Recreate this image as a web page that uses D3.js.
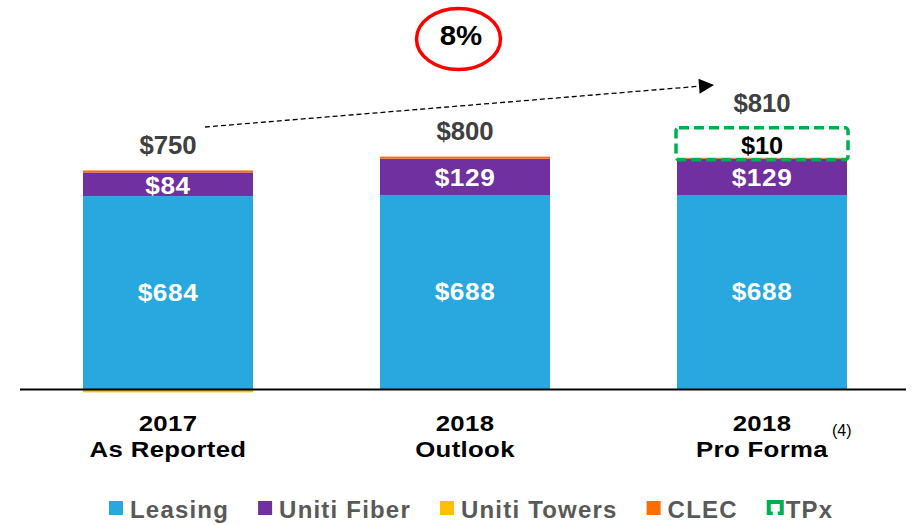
<!DOCTYPE html>
<html>
<head>
<meta charset="utf-8">
<script src="https://cdn.jsdelivr.net/npm/d3@7"></script>
<style>
  body { margin: 0; background: #fff; }
  svg { display: block; font-family: "Liberation Sans", Arial, sans-serif; }
</style>
</head>
<body>
<svg id="chart" width="914" height="525"></svg>
<script>
// chart data
var categories = [["2017", "As Reported"], ["2018", "Outlook"], ["2018", "Pro Forma"]];
var leasing = [684, 688, 688];
var fiber = [84, 129, 129];
var towers = [-12, 0, 0];
var clec = [7, 7, 3];
var tpx = [0, 0, 10];
var totals = [750, 800, 810];
var growth = "8%";
var seriesNames = ["Leasing", "Uniti Fiber", "Uniti Towers", "CLEC", "TPx"];
var seriesColors = ["#29A8E0", "#7030A0", "#FFC000", "#FF6D00", "#00B050"];

var svg = d3.select("#chart");

var x = d3.scaleBand()
  .domain(d3.range(categories.length))
  .range([83, 847])
  .paddingInner(0.4276)
  .paddingOuter(0);

var y = d3.scaleLinear().domain([0, 1000]).range([389, 107]);

// stacked segments (positive stack upward, towers negative below axis)
var rows = categories.map(function(c, i) {
  var segs = [];
  var base = 0;
  [leasing[i], fiber[i], clec[i]].forEach(function(v, k) {
    segs.push({ i: i, y0: base, y1: base + v, color: [seriesColors[0], seriesColors[1], seriesColors[3]][k] });
    base += v;
  });
  if (towers[i] < 0) segs.push({ i: i, y0: towers[i], y1: 0, color: seriesColors[2] });
  return { i: i, segs: segs, top: base };
});

var g = svg.append("g");
rows.forEach(function(r) {
  g.selectAll(null).data(r.segs).enter().append("rect")
    .attr("x", function(d) { return x(d.i); })
    .attr("width", x.bandwidth())
    .attr("y", function(d) { return y(d.y1); })
    .attr("height", function(d) { return y(d.y0) - y(d.y1); })
    .attr("fill", function(d) { return d.color; });
});

// axis baseline
svg.append("line")
  .attr("x1", 20).attr("x2", 906)
  .attr("y1", y(0) + 0.5).attr("y2", y(0) + 0.5)
  .attr("stroke", "#000").attr("stroke-width", 2);

// wide text helper: the original labels are horizontally stretched
function wideText(parent, cx, cy, sx) {
  return parent.append("g")
    .attr("transform", "translate(" + cx + "," + cy + ") scale(" + sx + ",1)")
    .append("text")
    .attr("text-anchor", "middle");
}

// segment labels
function segLabel(i, mid, txt, color) {
  wideText(svg, x(i) + x.bandwidth() / 2, mid, 1.14)
    .attr("dy", "0.36em")
    .attr("font-size", 23).attr("font-weight", "bold")
    .attr("letter-spacing", 0.5)
    .attr("fill", color)
    .text(txt);
}
categories.forEach(function(c, i) {
  segLabel(i, y(leasing[i] / 2), "$" + leasing[i], "#fff");
  segLabel(i, (y(leasing[i]) + y(leasing[i] + fiber[i])) / 2 + 1, "$" + fiber[i], "#fff");
});

// TPx dashed box
categories.forEach(function(c, i) {
  if (!tpx[i]) return;
  var bottom = y(rows[i].top) + 2;
  svg.append("rect")
    .attr("x", x(i) - 1).attr("width", x.bandwidth() + 2)
    .attr("y", bottom - 32).attr("height", 32)
    .attr("rx", 3)
    .attr("fill", "none")
    .attr("stroke", seriesColors[4]).attr("stroke-width", 3.5)
    .attr("stroke-dasharray", "10,5");
  wideText(svg, x(i) + x.bandwidth() / 2, bottom - 6, 1.1)
    .attr("font-size", 23).attr("font-weight", "bold")
    .attr("fill", "#000")
    .text("$" + tpx[i]);
});

// totals
var totalBaselines = [154, 139.5, 112];
totals.forEach(function(d, i) {
  wideText(svg, x(i) + x.bandwidth() / 2, totalBaselines[i], 1.03)
    .attr("font-size", 25).attr("font-weight", "bold")
    .attr("fill", "#404040")
    .text("$" + d);
});

// category labels
categories.forEach(function(c, i) {
  var cx = x(i) + x.bandwidth() / 2;
  wideText(svg, cx, 431, 1.12)
    .attr("font-size", 23).attr("font-weight", "bold")
    .attr("letter-spacing", 0.3)
    .attr("fill", "#000").text(c[0]);
  wideText(svg, cx, 457, 1.12)
    .attr("font-size", 23).attr("font-weight", "bold")
    .attr("letter-spacing", 0.3)
    .attr("fill", "#000").text(c[1]);
});
svg.append("text")
  .attr("x", 832).attr("y", 436)
  .attr("font-size", 16).attr("fill", "#000")
  .text("(4)");

// growth arrow
svg.append("defs").append("marker")
  .attr("id", "arrow")
  .attr("viewBox", "0 0 10 10")
  .attr("refX", 10).attr("refY", 5)
  .attr("markerWidth", 18).attr("markerHeight", 15)
  .attr("markerUnits", "userSpaceOnUse")
  .attr("orient", "auto")
  .append("path").attr("d", "M0,0L10,5L0,10Z").attr("fill", "#000");
svg.append("line")
  .attr("x1", 205).attr("y1", 127)
  .attr("x2", 714).attr("y2", 85)
  .attr("stroke", "#000").attr("stroke-width", 1.3)
  .attr("stroke-dasharray", "5,3")
  .attr("marker-end", "url(#arrow)");

svg.append("ellipse")
  .attr("cx", 458.5).attr("cy", 39)
  .attr("rx", 42).attr("ry", 30.5)
  .attr("fill", "none").attr("stroke", "#FF0000").attr("stroke-width", 3.5);
wideText(svg, 461, 45, 1.05)
  .attr("font-size", 28).attr("font-weight", "bold")
  .attr("fill", "#000")
  .text(growth);

// legend
var lx = 109;
var legend = svg.append("g");
seriesNames.forEach(function(name, k) {
  var item = legend.append("g");
  if (name === "TPx") {
    // bracket icon for the dashed TPx box
    item.append("path")
      .attr("transform", "translate(" + lx + ",500)")
      .attr("d", "M0,0H17V15H11V11.5H13V4H4V11.5H6V15H0Z")
      .attr("fill", seriesColors[k]);
  } else {
    item.append("rect")
      .attr("x", lx).attr("y", 501)
      .attr("width", 14).attr("height", 14)
      .attr("fill", seriesColors[k]);
  }
  var tx = lx + (name === "TPx" ? 19 : 21);
  var t = item.append("text")
    .attr("x", tx).attr("y", 518)
    .attr("font-size", 24).attr("font-weight", "bold")
    .attr("letter-spacing", 1.2)
    .attr("fill", "#595959")
    .text(name);
  lx = tx + t.node().getComputedTextLength() + 29;
});
</script>
</body>
</html>
